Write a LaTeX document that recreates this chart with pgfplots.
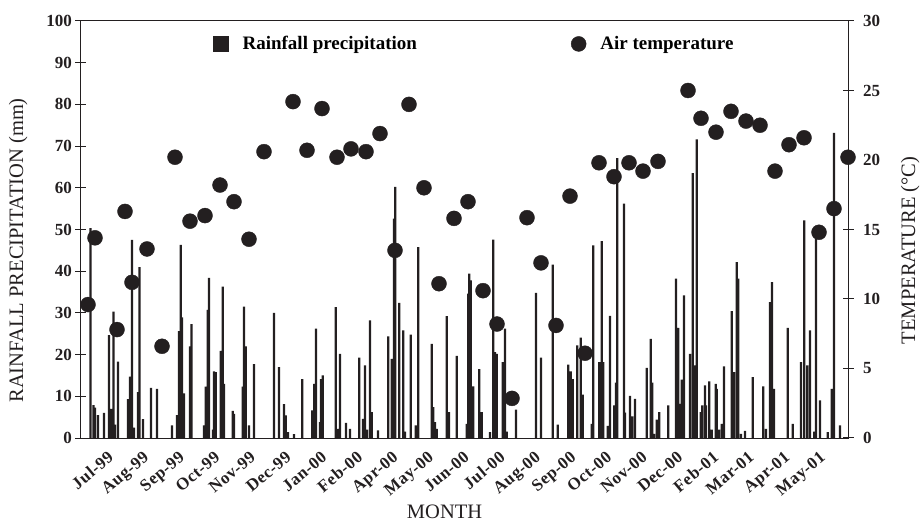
\documentclass[border=0pt]{standalone}
\usepackage{fontspec}
\setmainfont{Liberation Serif}
\usepackage{pgfplots}
\pgfplotsset{compat=1.18}
\definecolor{ink}{RGB}{35,31,32}

\begin{document}
\begin{tikzpicture}
\pgfplotsset{
  base/.style={
    scale only axis, width=767pt, height=417pt,
    xmin=0, xmax=767,
    /pgf/number format/assume math mode=true,
    tick label style={font=\fontsize{17}{17}\selectfont\bfseries, text=ink},
    label style={font=\fontsize{20.5}{24}\selectfont, text=ink},
    axis line style={ink, line width=1pt},
    tick style={ink, line width=1pt},
    tick align=center,
    major tick length=11pt,
  }
}
% rainfall (mm), left axis
\begin{axis}[base,
  ymin=0, ymax=100, ytick={0,10,...,100}, ytick pos=left,
  xtick pos=bottom,
  xtick={26,61.6,97.2,132.8,168.4,204,239.6,275.2,310.8,346.4,382,417.6,453.2,488.8,524.4,560,595.6,631.2,666.8,702.4,738},
  xticklabels={Jul-99,Aug-99,Sep-99,Oct-99,Nov-99,Dec-99,Jan-00,Feb-00,Apr-00,May-00,Jun-00,Jul-00,Aug-00,Sep-00,Oct-00,Nov-00,Dec-00,Feb-01,Mar-01,Apr-01,May-01},
  x tick style={draw=none},
  xticklabel shift=5pt,
  xticklabel style={rotate=40, anchor=north east, inner sep=1pt,
    font=\fontsize{17}{17}\selectfont\bfseries\addfontfeature{LetterSpace=3}},
  ylabel={RAINFALL PRECIPITATION (mm)},
  ylabel style={at={(axis description cs:-0.082,0.45)}, anchor=center},
  xlabel={MONTH},
  xlabel style={at={(axis description cs:0.474,-0.177)}, anchor=center},
]
\addplot[ybar, bar width=2.3, bar shift=0pt, fill=ink, draw=none] table {
x y
9.5 50.3
12.5 7.9
14 7.3
17 5.5
23 6.0
28 24.7
30 7.0
32.5 30.3
34 3.2
37 18.3
47 9.3
49 14.7
51 47.5
53 2.5
57 11.0
58.5 41.0
62 4.5
70 12.0
76 11.8
91 3.0
96 5.5
98 25.6
99.7 46.3
101 28.9
103 10.7
109 22.0
110.5 27.3
123 3.0
124.7 12.3
126.7 30.7
128 38.4
132 2.0
133 16.0
134.7 15.8
139.7 20.9
141.7 36.3
143 13.0
151.7 6.5
153 5.8
161.7 12.3
163 31.5
164.7 22.0
168 3.0
173 17.7
193 30.0
198 17.0
203 8.1
204.7 5.4
207 1.4
213 0.9
221.3 14.1
231.3 6.6
233.3 13.0
235 26.2
239 3.8
240 14.1
241.7 15.0
254.7 31.4
256.5 2.2
259 20.2
265 3.6
269 2.2
278.3 19.3
282 4.6
284 17.4
286 2.0
289 28.2
290.7 6.2
297 1.8
307.3 24.4
310.7 19.0
313 52.6
314.3 60.2
318.3 32.4
322.3 25.8
324 1.5
329.7 24.8
334.7 3.0
337.3 45.8
350.7 22.6
352.3 7.4
354 3.8
355.7 2.2
365.7 29.2
368 6.2
375.7 19.7
385.7 3.4
387.3 34.6
388.3 39.4
389.7 37.8
392.3 12.4
398.3 16.5
400.7 6.2
409 1.4
412.3 47.6
414 20.6
415.7 20.2
421.7 18.2
424 26.2
425.7 1.5
435 6.8
455 34.8
460 19.3
471.7 41.6
476.7 3.2
487.3 17.6
489.7 16.0
491.7 14.1
496.3 22.2
499.7 24.1
501.7 10.4
510.7 3.4
512.3 46.2
518.3 18.2
520.7 47.2
522.3 18.2
526.7 2.9
529 29.3
533.3 7.8
535 13.3
536.3 67.1
543 56.2
544 6.1
549 10.1
551.3 5.2
554 9.4
565.7 16.8
569.7 23.8
571.3 13.3
573 1.0
575.7 4.4
578.3 6.2
587.3 7.8
595 38.2
597.3 26.4
599 8.2
600.7 14.0
603 34.2
609 20.2
611.7 63.5
614 17.4
615.7 71.6
619.7 6.2
621.3 7.8
624 12.6
625 7.8
628.3 13.6
630.7 2.0
634.7 13.0
635.7 11.8
638 2.0
640.7 3.4
643 17.2
650.7 30.4
653 15.8
655.7 42.2
657.3 38.2
660 1.0
664 1.7
671.7 14.6
682.3 12.4
685 2.2
689 32.6
691 37.4
693 11.8
706.7 26.4
711.7 3.4
720 18.2
723.3 52.2
726.3 17.4
729 25.8
733.3 1.5
735 48.6
739 9.0
746.7 1.4
750.7 11.8
753 73.2
759 3.0
};
\coordinate (bl) at (rel axis cs:0,0);
\coordinate (tr) at (rel axis cs:1,1);
\end{axis}
% air temperature, right axis
\begin{axis}[base,
  ymin=0, ymax=30, ytick={0,5,...,30},
  axis x line=none, axis y line*=right, clip=false,
  yticklabel shift=6pt,
  ylabel={TEMPERATURE (°C)},
  ylabel style={at={(axis description cs:1.081,0.45)}, anchor=center},
  legend columns=2, legend cell align=left,
  legend style={draw=none, fill=none, inner sep=0pt,
    nodes={inner sep=0pt},
    at={(axis description cs:0.1721,0.945)}, anchor=west,
    font=\fontsize{19}{19}\selectfont\bfseries,
    /tikz/every odd column/.append style={column sep=14pt},
    /tikz/every even column/.append style={column sep=154pt}},
]
\addlegendimage{legend image code/.code={\fill[ink] (0pt,-7.5pt) rectangle (15pt,7.5pt);}}
\addlegendentry{Rainfall precipitation}
\addplot[only marks, mark=*, mark size=7.5pt, color=ink, mark options={fill=ink, draw=ink},
  legend image code/.code={\fill[ink] (7.5pt,0pt) circle (7.5pt);}] table {
x y
7 9.6
14 14.4
36 7.8
44 16.3
51 11.2
66 13.6
81 6.6
94 20.2
109 15.6
124 16.0
139 18.2
153 17.0
168 14.3
183 20.6
212 24.2
226 20.7
241 23.7
256 20.2
270 20.8
285 20.6
299 21.9
314 13.5
328 24.0
343 18.0
358 11.1
373 15.8
387 17.0
402 10.6
416 8.2
431 2.85
446 15.85
460 12.6
475 8.1
489 17.4
504 6.1
518 19.8
533 18.8
548 19.8
562 19.2
577 19.9
607 25.0
620 23.0
635 22.0
650 23.5
665 22.8
679 22.5
694 19.2
708 21.1
723 21.6
738 14.8
753 16.5
767 20.2
};
\addlegendentry{Air temperature}
\end{axis}
\pgfresetboundingbox
\path ([xshift=-81pt,yshift=-84pt]bl) rectangle ([xshift=76pt,yshift=21pt]tr);
\end{tikzpicture}
\end{document}
